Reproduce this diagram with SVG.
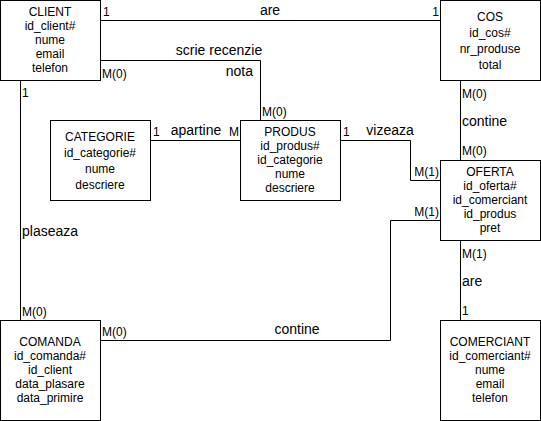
<svg xmlns="http://www.w3.org/2000/svg" width="541" height="421" viewBox="0 0 541 421">
<style>
.box{fill:#fff;stroke:#000;stroke-width:1}
.t{font-family:"Liberation Sans",Arial,Helvetica,sans-serif;font-size:12px;fill:#000;text-anchor:middle}
.c{font-family:"Liberation Sans",Arial,Helvetica,sans-serif;font-size:12px;fill:#000}
.l{font-family:"Liberation Sans",Arial,Helvetica,sans-serif;font-size:14px;fill:#000}
.e{fill:none;stroke:#000;stroke-width:1}
</style>
<rect width="541" height="421" fill="#fff"/>
<g id="connectors">
<path class="e" d="M100.5 20.5H440.5"/>
<path class="e" d="M100.5 60.5H260.5V120.5"/>
<path class="e" d="M20.5 80.5V320.5"/>
<path class="e" d="M460.5 80.5V160.5"/>
<path class="e" d="M150.5 140.5H240.5"/>
<path class="e" d="M340.5 140.5H410.5V180.5H440.5"/>
<path class="e" d="M100.5 340.5H390.5V220.5H440.5"/>
<path class="e" d="M460.5 240.5V320.5"/>
<text class="c" x="103" y="16">1</text>
<text class="l" x="270" y="15" text-anchor="middle">are</text>
<text class="c" x="439" y="16" text-anchor="end">1</text>
<text class="l" x="219" y="55" text-anchor="middle">scrie recenzie</text>
<text class="l" x="253" y="76" text-anchor="end">nota</text>
<text class="c" x="102" y="78">M(0)</text>
<text class="c" x="262" y="116">M(0)</text>
<text class="c" x="153" y="136">1</text>
<text class="l" x="196" y="135" text-anchor="middle">apartine</text>
<text class="c" x="239" y="136" text-anchor="end">M</text>
<text class="c" x="343" y="136">1</text>
<text class="l" x="390" y="135" text-anchor="middle">vizeaza</text>
<text class="c" x="439" y="176" text-anchor="end">M(1)</text>
<text class="c" x="439" y="216" text-anchor="end">M(1)</text>
<text class="c" x="462" y="98">M(0)</text>
<text class="l" x="462" y="126">contine</text>
<text class="c" x="462" y="155">M(0)</text>
<text class="c" x="22" y="97">1</text>
<text class="l" x="22" y="236">plaseaza</text>
<text class="c" x="22" y="316">M(0)</text>
<text class="c" x="102" y="336">M(0)</text>
<text class="l" x="297" y="334" text-anchor="middle">contine</text>
<text class="c" x="462" y="258">M(1)</text>
<text class="l" x="462" y="286">are</text>
<text class="c" x="462" y="315">1</text>
</g>
<g id="client">
<rect class="box" x="0.5" y="0.5" width="100" height="80"/>
<text class="t" x="50" y="16">CLIENT</text>
<text class="t" x="50" y="30">id_client#</text>
<text class="t" x="50" y="44">nume</text>
<text class="t" x="50" y="58">email</text>
<text class="t" x="50" y="72">telefon</text>
</g>
<g id="cos">
<rect class="box" x="440.5" y="0.5" width="100" height="80"/>
<text class="t" x="490" y="21">COS</text>
<text class="t" x="490" y="37">id_cos#</text>
<text class="t" x="490" y="53">nr_produse</text>
<text class="t" x="490" y="69">total</text>
</g>
<g id="categorie">
<rect class="box" x="50.5" y="120.5" width="100" height="80"/>
<text class="t" x="100" y="141">CATEGORIE</text>
<text class="t" x="100" y="157">id_categorie#</text>
<text class="t" x="100" y="173">nume</text>
<text class="t" x="100" y="189">descriere</text>
</g>
<g id="produs">
<rect class="box" x="240.5" y="120.5" width="100" height="80"/>
<text class="t" x="290" y="136">PRODUS</text>
<text class="t" x="290" y="150">id_produs#</text>
<text class="t" x="290" y="164">id_categorie</text>
<text class="t" x="290" y="178">nume</text>
<text class="t" x="290" y="192">descriere</text>
</g>
<g id="oferta">
<rect class="box" x="440.5" y="160.5" width="100" height="80"/>
<text class="t" x="490" y="176">OFERTA</text>
<text class="t" x="490" y="190">id_oferta#</text>
<text class="t" x="490" y="204">id_comerciant</text>
<text class="t" x="490" y="218">id_produs</text>
<text class="t" x="490" y="232">pret</text>
</g>
<g id="comanda">
<rect class="box" x="0.5" y="320.5" width="100" height="100"/>
<text class="t" x="50" y="346">COMANDA</text>
<text class="t" x="50" y="360">id_comanda#</text>
<text class="t" x="50" y="374">id_client</text>
<text class="t" x="50" y="388">data_plasare</text>
<text class="t" x="50" y="402">data_primire</text>
</g>
<g id="comerciant">
<rect class="box" x="440.5" y="320.5" width="100" height="100"/>
<text class="t" x="490" y="346">COMERCIANT</text>
<text class="t" x="490" y="360">id_comerciant#</text>
<text class="t" x="490" y="374">nume</text>
<text class="t" x="490" y="388">email</text>
<text class="t" x="490" y="402">telefon</text>
</g>
</svg>
